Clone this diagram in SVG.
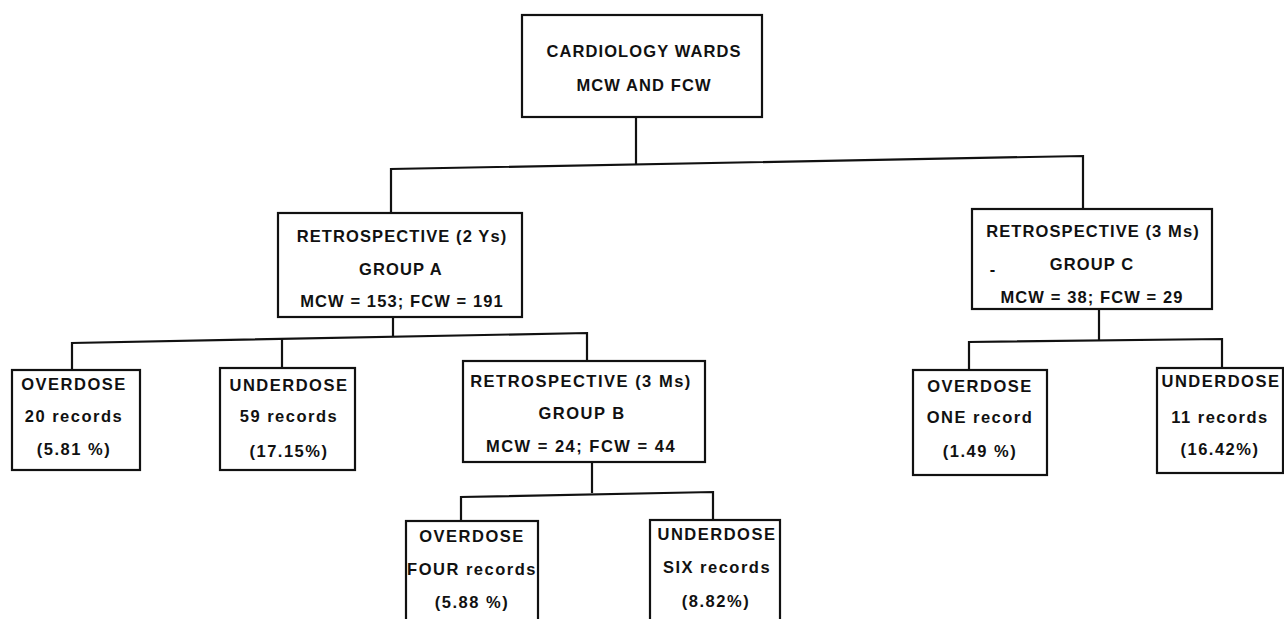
<svg xmlns="http://www.w3.org/2000/svg" width="1284" height="619" viewBox="0 0 1284 619">
<style>
.box{fill:#fff;stroke:#111;stroke-width:2.2}
.t{font-family:"Liberation Sans",Arial,Helvetica,sans-serif;font-weight:bold;font-size:16.5px;letter-spacing:1.1px;fill:#111;text-anchor:middle}
.l{letter-spacing:1.5px}
.c{fill:none;stroke:#111;stroke-width:2.2}
</style>
<rect width="1284" height="619" fill="#fff"/>
<g id="connectors">
<path class="c" d="M636,117 V165"/>
<path class="c" d="M391,213 V169 L1083,156 V209"/>
<path class="c" d="M393,317 V337"/>
<path class="c" d="M72,370 V343 L587,333 V361"/>
<path class="c" d="M282,339 V368"/>
<path class="c" d="M592,462 V493"/>
<path class="c" d="M461,521 V497 L713,492 V520"/>
<path class="c" d="M1099,309 V341"/>
<path class="c" d="M969,370 V342 L1222,339 V368"/>
</g>
<g id="root">
<rect class="box" x="522" y="15" width="240" height="102"/>
<text class="t" x="644" y="57">CARDIOLOGY WARDS</text>
<text class="t" x="644" y="91">MCW AND FCW</text>
</g>
<g id="groupA">
<rect class="box" x="278" y="213" width="244" height="104"/>
<text class="t" x="402" y="242">RETROSPECTIVE (2 Ys)</text>
<text class="t" x="401" y="275">GROUP A</text>
<text class="t" x="402" y="307">MCW = 153; FCW = 191</text>
</g>
<g id="groupC">
<rect class="box" x="972" y="209" width="240" height="100"/>
<text class="t" x="1093" y="237">RETROSPECTIVE (3 Ms)</text>
<text class="t" x="993" y="275">-</text>
<text class="t" x="1092" y="270">GROUP C</text>
<text class="t" x="1092" y="303">MCW = 38; FCW = 29</text>
</g>
<g id="groupB">
<rect class="box" x="463" y="361" width="242" height="101"/>
<text class="t l" x="581" y="387">RETROSPECTIVE (3 Ms)</text>
<text class="t l" x="582" y="419">GROUP B</text>
<text class="t l" x="581" y="452">MCW = 24; FCW = 44</text>
</g>
<g id="overdoseA">
<rect class="box" x="12" y="370" width="128" height="100"/>
<text class="t l" x="74" y="390">OVERDOSE</text>
<text class="t l" x="74" y="422">20 records</text>
<text class="t l" x="74" y="455">(5.81 %)</text>
</g>
<g id="underdoseA">
<rect class="box" x="220" y="368" width="135" height="102"/>
<text class="t l" x="289" y="391">UNDERDOSE</text>
<text class="t l" x="289" y="422">59 records</text>
<text class="t l" x="289" y="457">(17.15%)</text>
</g>
<g id="overdoseB">
<rect class="box" x="406" y="521" width="132" height="110"/>
<text class="t l" x="472" y="542">OVERDOSE</text>
<text class="t l" x="472" y="575">FOUR records</text>
<text class="t l" x="472" y="608">(5.88 %)</text>
</g>
<g id="underdoseB">
<rect class="box" x="650" y="520" width="130" height="110"/>
<text class="t l" x="717" y="540">UNDERDOSE</text>
<text class="t l" x="717" y="573">SIX records</text>
<text class="t l" x="716" y="607">(8.82%)</text>
</g>
<g id="overdoseC">
<rect class="box" x="913" y="370" width="134" height="105"/>
<text class="t l" x="980" y="392">OVERDOSE</text>
<text class="t l" x="980" y="423">ONE record</text>
<text class="t l" x="980" y="457">(1.49 %)</text>
</g>
<g id="underdoseC">
<rect class="box" x="1157" y="368" width="126" height="105"/>
<text class="t l" x="1221" y="387">UNDERDOSE</text>
<text class="t l" x="1220" y="423">11 records</text>
<text class="t l" x="1220" y="455">(16.42%)</text>
</g>
</svg>
